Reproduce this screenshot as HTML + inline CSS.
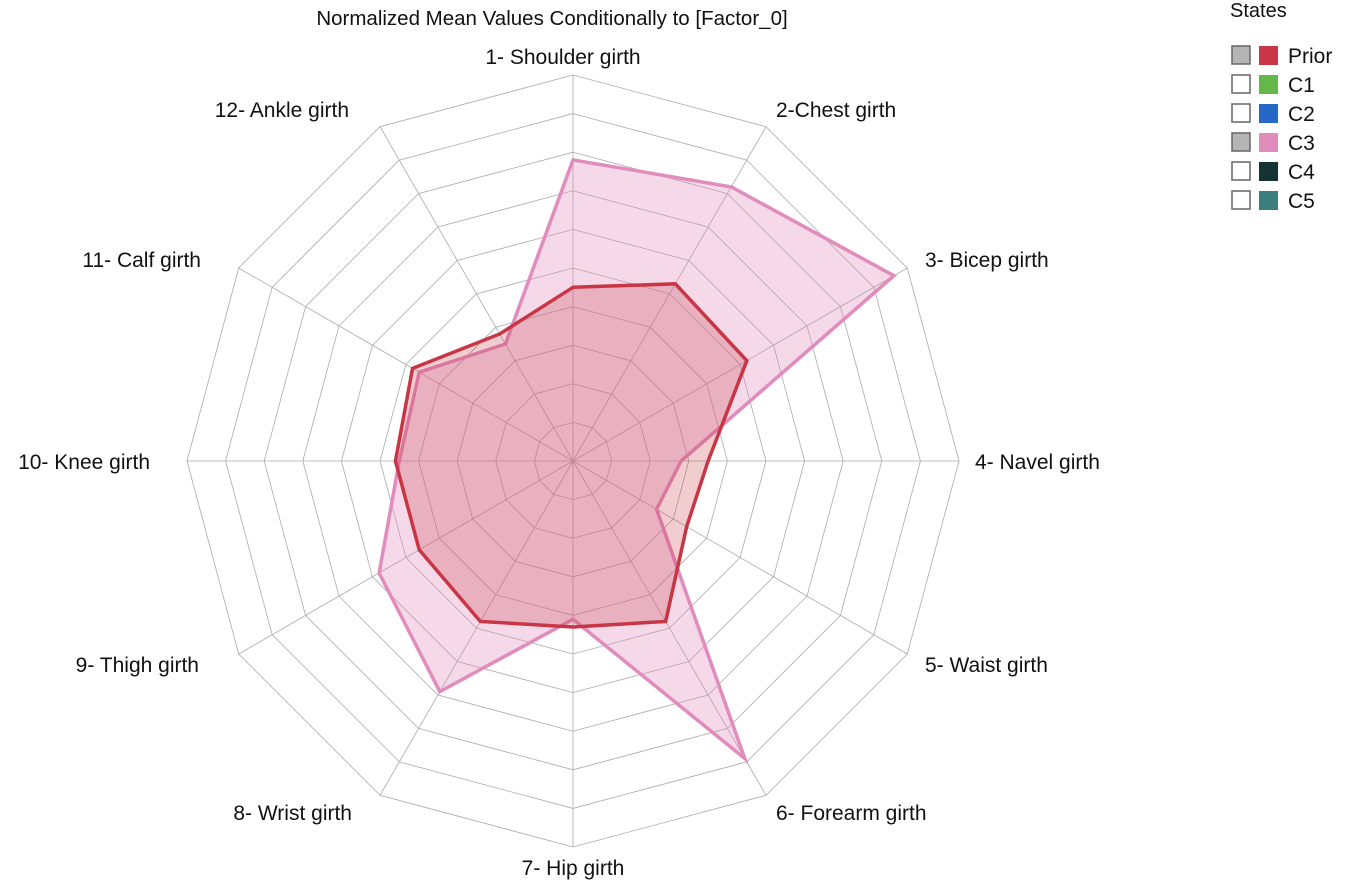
<!DOCTYPE html>
<html><head><meta charset="utf-8"><style>
body{margin:0;background:#fff;font-family:"Liberation Sans",Arial,sans-serif}
svg text{font-family:"Liberation Sans",Arial,sans-serif}
</style></head><body>
<svg id="chart" width="1348" height="886" xmlns="http://www.w3.org/2000/svg">
<text x="552" y="25" font-size="20.5" text-anchor="middle" fill="#111">Normalized Mean Values Conditionally to [Factor_0]</text>
<g id="grid"></g>
<g id="series"></g>
<g id="labels"></g>
<g>
<text x="1230" y="17" font-size="20" fill="#111">States</text>
</g>
<g id="legend"></g>
</svg>
<script>
const categories=["1- Shoulder girth","2-Chest girth","3- Bicep girth","4- Navel girth","5- Waist girth","6- Forearm girth","7- Hip girth","8- Wrist girth","9- Thigh girth","10- Knee girth","11- Calf girth","12- Ankle girth"];
const priorValues=[0.45,0.53,0.52,0.35,0.34,0.48,0.43,0.48,0.46,0.46,0.48,0.38];
const c3Values=[0.78,0.82,0.96,0.28,0.25,0.89,0.41,0.69,0.58,0.45,0.46,0.35];
const legendLabels=["Prior","C1","C2","C3","C4","C5"];
const legendColors=["#c83645","#62b94a","#2568c8","#e08cbc","#133335","#3a7f7c"];
const legendActive=[true,false,false,true,false,false];
const ringCount=10;
const NS="http://www.w3.org/2000/svg";
const cx=573,cy=461,R=386;
const labelPos=[[563,64,'middle'],[776,117,'start'],[925,267,'start'],[975,469,'start'],[925,672,'start'],[776,820,'start'],[573,875,'middle'],[352,820,'end'],[199,672,'end'],[150,469,'end'],[201,267,'end'],[349,117,'end']];
function pt(i,v){const a=-Math.PI/2+i*2*Math.PI/categories.length;return [cx+R*v*Math.cos(a),cy+R*v*Math.sin(a)];}
function mk(tag,attrs,parent){const e=document.createElementNS(NS,tag);for(const k in attrs)e.setAttribute(k,attrs[k]);parent.appendChild(e);return e;}
const grid=document.getElementById('grid');
for(let r=1;r<=ringCount;r++){
 const p=categories.map((c,i)=>pt(i,r/ringCount).join(',')).join(' ');
 const e=mk('polygon',{points:p,fill:'none',stroke:'#aaa','stroke-width':0.8},grid);
 
 
}
categories.forEach((c,i)=>{const [x,y]=pt(i,1);
 const e=mk('line',{x1:cx,y1:cy,x2:x,y2:y,stroke:'#aaa','stroke-width':0.8},grid);
 
 
});
const ser=document.getElementById('series');
function poly(vals,fill,fo,stroke,name){
 const p=vals.map((v,i)=>pt(i,v).join(',')).join(' ');
 const e=mk('polygon',{points:p,fill:fill,'fill-opacity':fo,stroke:stroke,'stroke-width':3.5,'stroke-linejoin':'miter'},ser);
 
 
}
poly(c3Values,'#e08cbc',0.33,'#e08cbc','series-c3');
poly(priorValues,'#c83645',0.25,'#c83645','series-prior');
const labs=document.getElementById('labels');
categories.forEach((c,i)=>{
 const lp=labelPos[i];
 const e=mk('text',{x:lp[0],y:lp[1],'font-size':21,'text-anchor':lp[2],fill:'#111'},labs);
 e.textContent=c;
 
 
});
const lg=document.getElementById('legend');
legendLabels.forEach((l,i)=>{
 const y=46+i*29;
 const g=mk('g',{},lg);
 
 
 mk('rect',{x:1232,y:y,width:18,height:18,fill:legendActive[i]?'#b5b5b5':'#fff',stroke:'#666','stroke-width':1.5},g);
 mk('rect',{x:1259,y:y,width:19,height:19,fill:legendColors[i]},g);
 const t=mk('text',{x:1288,y:y+17,'font-size':21,fill:'#111'},g);
 t.textContent=l;
});
</script>
</body></html>
